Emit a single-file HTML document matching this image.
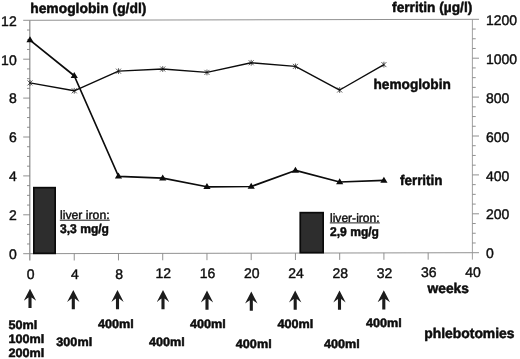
<!DOCTYPE html>
<html lang="en"><head><meta charset="utf-8"><title>Hemoglobin and ferritin during phlebotomies</title>
<style>html,body{margin:0;padding:0;background:#fff}body{width:520px;height:359px;overflow:hidden}svg text{text-rendering:geometricPrecision}</style></head>
<body>
<svg width="520" height="359" viewBox="0 0 520 359" style="display:block" font-family="'Liberation Sans', Arial, Helvetica, sans-serif" fill="#0d0d0d">
<rect width="520" height="359" fill="#fff"/>
<g stroke="#858585" stroke-width="0.9" fill="none"><line x1="23.2" y1="20.3" x2="479" y2="19.3"/><line x1="23.2" y1="253.7" x2="479" y2="252.7"/><line x1="29.8" y1="20.3" x2="29.8" y2="260.4" stroke="#8e8e8e" stroke-width="1.25"/><line x1="472.4" y1="19.3" x2="472.4" y2="259.6" stroke="#969696"/><line x1="27" y1="243.97" x2="30" y2="243.97"/><line x1="472.4" y1="242.98" x2="475.7" y2="242.98"/><line x1="27" y1="234.25" x2="30" y2="234.25"/><line x1="472.4" y1="233.25" x2="475.7" y2="233.25"/><line x1="27" y1="224.52" x2="30" y2="224.52"/><line x1="472.4" y1="223.53" x2="475.7" y2="223.53"/><line x1="23.2" y1="214.8" x2="30" y2="214.8"/><line x1="472.4" y1="213.8" x2="479" y2="213.8"/><line x1="27" y1="205.07" x2="30" y2="205.07"/><line x1="472.4" y1="204.08" x2="475.7" y2="204.08"/><line x1="27" y1="195.35" x2="30" y2="195.35"/><line x1="472.4" y1="194.35" x2="475.7" y2="194.35"/><line x1="27" y1="185.62" x2="30" y2="185.62"/><line x1="472.4" y1="184.63" x2="475.7" y2="184.63"/><line x1="23.2" y1="175.9" x2="30" y2="175.9"/><line x1="472.4" y1="174.9" x2="479" y2="174.9"/><line x1="27" y1="166.18" x2="30" y2="166.18"/><line x1="472.4" y1="165.18" x2="475.7" y2="165.18"/><line x1="27" y1="156.45" x2="30" y2="156.45"/><line x1="472.4" y1="155.45" x2="475.7" y2="155.45"/><line x1="27" y1="146.72" x2="30" y2="146.72"/><line x1="472.4" y1="145.73" x2="475.7" y2="145.73"/><line x1="23.2" y1="137" x2="30" y2="137"/><line x1="472.4" y1="136" x2="479" y2="136"/><line x1="27" y1="127.27" x2="30" y2="127.27"/><line x1="472.4" y1="126.28" x2="475.7" y2="126.28"/><line x1="27" y1="117.55" x2="30" y2="117.55"/><line x1="472.4" y1="116.55" x2="475.7" y2="116.55"/><line x1="27" y1="107.82" x2="30" y2="107.82"/><line x1="472.4" y1="106.83" x2="475.7" y2="106.83"/><line x1="23.2" y1="98.1" x2="30" y2="98.1"/><line x1="472.4" y1="97.1" x2="479" y2="97.1"/><line x1="27" y1="88.38" x2="30" y2="88.38"/><line x1="472.4" y1="87.38" x2="475.7" y2="87.38"/><line x1="27" y1="78.65" x2="30" y2="78.65"/><line x1="472.4" y1="77.65" x2="475.7" y2="77.65"/><line x1="27" y1="68.92" x2="30" y2="68.92"/><line x1="472.4" y1="67.93" x2="475.7" y2="67.93"/><line x1="23.2" y1="59.2" x2="30" y2="59.2"/><line x1="472.4" y1="58.2" x2="479" y2="58.2"/><line x1="27" y1="49.47" x2="30" y2="49.47"/><line x1="472.4" y1="48.48" x2="475.7" y2="48.48"/><line x1="27" y1="39.75" x2="30" y2="39.75"/><line x1="472.4" y1="38.75" x2="475.7" y2="38.75"/><line x1="27" y1="30.03" x2="30" y2="30.03"/><line x1="472.4" y1="29.03" x2="475.7" y2="29.03"/><line x1="74.24" y1="253.6" x2="74.24" y2="260.5"/><line x1="118.48" y1="253.5" x2="118.48" y2="260.4"/><line x1="162.72" y1="253.4" x2="162.72" y2="260.3"/><line x1="206.96" y1="253.3" x2="206.96" y2="260.2"/><line x1="251.2" y1="253.2" x2="251.2" y2="260.1"/><line x1="295.44" y1="253.1" x2="295.44" y2="260"/><line x1="339.68" y1="253" x2="339.68" y2="259.9"/><line x1="383.92" y1="252.9" x2="383.92" y2="259.8"/><line x1="428.16" y1="252.8" x2="428.16" y2="259.7"/></g>
<rect x="33.85" y="187.65" width="21.3" height="65.7" fill="#2d2d2d" stroke="#0a0a0a" stroke-width="1.7"/>
<rect x="300.25" y="212.65" width="22.9" height="40" fill="#2d2d2d" stroke="#0a0a0a" stroke-width="1.7"/>
<polyline points="30,82.93 74.24,90.8 118.48,71.16 162.72,69.01 206.96,72.42 251.2,62.78 295.44,66.38 339.68,90.01 383.92,64.62" fill="none" stroke="#0c0c0c" stroke-width="1.4" stroke-linejoin="round"/>
<path d="M27.5,80.43L32.5,85.43M27.5,85.43L32.5,80.43M30,80.03L30,85.83M71.74,88.3L76.74,93.3M71.74,93.3L76.74,88.3M74.24,87.9L74.24,93.7M115.98,68.66L120.98,73.66M115.98,73.66L120.98,68.66M118.48,68.26L118.48,74.06M160.22,66.51L165.22,71.51M160.22,71.51L165.22,66.51M162.72,66.11L162.72,71.91M204.46,69.92L209.46,74.92M204.46,74.92L209.46,69.92M206.96,69.52L206.96,75.32M248.7,60.28L253.7,65.28M248.7,65.28L253.7,60.28M251.2,59.88L251.2,65.68M292.94,63.88L297.94,68.88M292.94,68.88L297.94,63.88M295.44,63.48L295.44,69.28M337.18,87.51L342.18,92.51M337.18,92.51L342.18,87.51M339.68,87.11L339.68,92.91M381.42,62.12L386.42,67.12M381.42,67.12L386.42,62.12M383.92,61.72L383.92,67.52" fill="none" stroke="#141414" stroke-width="0.7"/>
<polyline points="30,40.04 74.24,75.73 118.48,176.28 162.72,178.13 206.96,186.78 251.2,186.49 295.44,170.44 339.68,182.01 383.92,180.35" fill="none" stroke="#0c0c0c" stroke-width="1.7" stroke-linejoin="round"/>
<path d="M30,36.34L33.6,42.34L26.4,42.34ZM74.24,72.03L77.84,78.03L70.64,78.03ZM118.48,172.58L122.08,178.58L114.88,178.58ZM162.72,174.43L166.32,180.43L159.12,180.43ZM206.96,183.08L210.56,189.08L203.36,189.08ZM251.2,182.79L254.8,188.79L247.6,188.79ZM295.44,166.74L299.04,172.74L291.84,172.74ZM339.68,178.31L343.28,184.31L336.08,184.31ZM383.92,176.65L387.52,182.65L380.32,182.65Z" fill="#0c0c0c"/>
<path d="M30,288.8L36.2,300.8L31.55,297.4L31.55,308L28.45,308L28.45,297.4L23.8,300.8ZM73.3,290L79.5,302L74.85,298.6L74.85,309.2L71.75,309.2L71.75,298.6L67.1,302ZM117.5,290L123.7,302L119.05,298.6L119.05,309.2L115.95,309.2L115.95,298.6L111.3,302ZM163,290L169.2,302L164.55,298.6L164.55,309.2L161.45,309.2L161.45,298.6L156.8,302ZM207,290.5L213.2,302.5L208.55,299.1L208.55,309.7L205.45,309.7L205.45,299.1L200.8,302.5ZM251.3,291.6L257.5,303.6L252.85,300.2L252.85,310.8L249.75,310.8L249.75,300.2L245.1,303.6ZM295.2,290.5L301.4,302.5L296.75,299.1L296.75,309.7L293.65,309.7L293.65,299.1L289,302.5ZM339.5,290.5L345.7,302.5L341.05,299.1L341.05,309.7L337.95,309.7L337.95,299.1L333.3,302.5ZM383.8,290.3L390,302.3L385.35,298.9L385.35,309.5L382.25,309.5L382.25,298.9L377.6,302.3Z" fill="#1c1c1c"/>
<g stroke="#0d0d0d" stroke-width="0.4" stroke-linejoin="round">
<text x="30.2" y="12.9" font-size="14" font-weight="bold" stroke-width="0.5" textLength="116.2" lengthAdjust="spacingAndGlyphs">hemoglobin (g/dl)</text>
<text x="392.1" y="12.3" font-size="14" font-weight="bold" stroke-width="0.5" textLength="80.2" lengthAdjust="spacingAndGlyphs">ferritin (µg/l)</text>
<text x="16.7" y="259" font-size="14" text-anchor="end">0</text>
<text x="16.7" y="220.1" font-size="14" text-anchor="end">2</text>
<text x="16.7" y="181.2" font-size="14" text-anchor="end">4</text>
<text x="16.7" y="142.3" font-size="14" text-anchor="end">6</text>
<text x="16.7" y="103.4" font-size="14" text-anchor="end">8</text>
<text x="16.7" y="64.5" font-size="14" text-anchor="end">10</text>
<text x="16.7" y="25.6" font-size="14" text-anchor="end">12</text>
<text x="485.9" y="258.3" font-size="14">0</text>
<text x="485.9" y="219.4" font-size="14">200</text>
<text x="485.9" y="180.5" font-size="14">400</text>
<text x="485.9" y="141.6" font-size="14">600</text>
<text x="485.9" y="102.7" font-size="14">800</text>
<text x="485.9" y="63.8" font-size="14">1000</text>
<text x="485.9" y="24.9" font-size="14">1200</text>
<text x="30.6" y="278.8" font-size="14" text-anchor="middle">0</text>
<text x="74.84" y="278.65" font-size="14" text-anchor="middle">4</text>
<text x="119.08" y="278.5" font-size="14" text-anchor="middle">8</text>
<text x="163.32" y="278.35" font-size="14" text-anchor="middle">12</text>
<text x="207.56" y="278.2" font-size="14" text-anchor="middle">16</text>
<text x="251.8" y="278.05" font-size="14" text-anchor="middle">20</text>
<text x="296.04" y="277.9" font-size="14" text-anchor="middle">24</text>
<text x="340.28" y="277.75" font-size="14" text-anchor="middle">28</text>
<text x="384.52" y="277.6" font-size="14" text-anchor="middle">32</text>
<text x="428.76" y="277.45" font-size="14" text-anchor="middle">36</text>
<text x="473" y="277.3" font-size="14" text-anchor="middle">40</text>
<text x="373.5" y="89.2" font-size="14" font-weight="bold" stroke-width="0.5" textLength="77.3" lengthAdjust="spacingAndGlyphs">hemoglobin</text>
<text x="400" y="185" font-size="14" font-weight="bold" stroke-width="0.5" textLength="42.5" lengthAdjust="spacingAndGlyphs">ferritin</text>
<text x="427.6" y="293.4" font-size="14" font-weight="bold" stroke-width="0.5" textLength="41.3" lengthAdjust="spacingAndGlyphs">weeks</text>
<text x="424.3" y="337.8" font-size="14" font-weight="bold" stroke-width="0.5" textLength="90.2" lengthAdjust="spacingAndGlyphs">phlebotomies</text>
<text x="60" y="218.6" font-size="12" textLength="49.6" lengthAdjust="spacingAndGlyphs">liver iron:</text>
<rect x="59.8" y="219.7" width="50" height="1" fill="#222" stroke="none"/>
<text x="60" y="233" font-size="12.7" font-weight="bold" stroke-width="0.5" textLength="49" lengthAdjust="spacingAndGlyphs">3,3 mg/g</text>
<text x="330" y="221.5" font-size="12" textLength="49.6" lengthAdjust="spacingAndGlyphs">liver-iron:</text>
<rect x="329.8" y="222.4" width="50" height="1" fill="#222" stroke="none"/>
<text x="330" y="236.3" font-size="12.7" font-weight="bold" stroke-width="0.5" textLength="49" lengthAdjust="spacingAndGlyphs">2,9 mg/g</text>
<text x="8.5" y="328.5" font-size="12.2" font-weight="bold" stroke-width="0.5" textLength="28.83" lengthAdjust="spacingAndGlyphs">50ml</text>
<text x="8.5" y="342.9" font-size="12.2" font-weight="bold" stroke-width="0.5" textLength="35.86" lengthAdjust="spacingAndGlyphs">100ml</text>
<text x="8.5" y="357.1" font-size="12.2" font-weight="bold" stroke-width="0.5" textLength="35.86" lengthAdjust="spacingAndGlyphs">200ml</text>
<text x="56.3" y="345.9" font-size="12.2" font-weight="bold" stroke-width="0.5" textLength="35.86" lengthAdjust="spacingAndGlyphs">300ml</text>
<text x="97.9" y="328.4" font-size="12.2" font-weight="bold" stroke-width="0.5" textLength="35.86" lengthAdjust="spacingAndGlyphs">400ml</text>
<text x="149" y="346.3" font-size="12.2" font-weight="bold" stroke-width="0.5" textLength="35.86" lengthAdjust="spacingAndGlyphs">400ml</text>
<text x="190" y="328.4" font-size="12.2" font-weight="bold" stroke-width="0.5" textLength="35.86" lengthAdjust="spacingAndGlyphs">400ml</text>
<text x="235.8" y="347.6" font-size="12.2" font-weight="bold" stroke-width="0.5" textLength="35.86" lengthAdjust="spacingAndGlyphs">400ml</text>
<text x="277.4" y="327.5" font-size="12.2" font-weight="bold" stroke-width="0.5" textLength="35.86" lengthAdjust="spacingAndGlyphs">400ml</text>
<text x="324" y="347.6" font-size="12.2" font-weight="bold" stroke-width="0.5" textLength="35.86" lengthAdjust="spacingAndGlyphs">400ml</text>
<text x="366" y="326.5" font-size="12.2" font-weight="bold" stroke-width="0.5" textLength="35.86" lengthAdjust="spacingAndGlyphs">400ml</text>
</g>
</svg>
</body></html>
